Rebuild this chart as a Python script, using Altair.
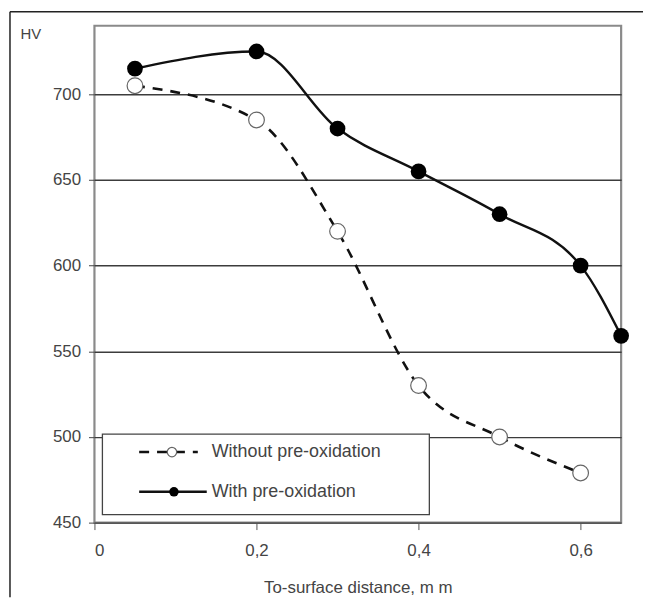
import altair as alt
import pandas as pd

# Data
x_without = [0.05, 0.2, 0.3, 0.4, 0.5, 0.6]
hv_without = [705, 685, 620, 530, 500, 479]
x_with = [0.05, 0.2, 0.3, 0.4, 0.5, 0.6, 0.65]
hv_with = [715, 725, 680, 655, 630, 600, 559]
x_ticks = [0, 0.2, 0.4, 0.6]
y_ticks = [450, 500, 550, 600, 650, 700]
legend_labels = ["Without pre-oxidation", "With pre-oxidation"]

FONT = "Liberation Sans"
TXT = "#444444"

df_wo = pd.DataFrame({"x": x_without, "hv": hv_without})
df_w = pd.DataFrame({"x": x_with, "hv": hv_with})
one = pd.DataFrame({"a": [0]})

xs = alt.Scale(domain=[0, 0.65], nice=False, zero=False)
ys = alt.Scale(domain=[450, 740], nice=False, zero=False)

xenc = alt.X("x:Q", scale=xs, axis=alt.Axis(
    values=x_ticks, format=".1~f", labelExpr="replace(datum.label, '.', ',')",
    title="To-surface distance, m m", grid=False, tickSize=7, labelPadding=13,
    titlePadding=21, labelFontSize=17, titleFontSize=17, titleFontWeight="normal",
    labelColor=TXT, titleColor=TXT, tickColor="#555", domain=False))
yenc = alt.Y("hv:Q", scale=ys, axis=alt.Axis(
    values=y_ticks, title="HV", titleAngle=0, titleX=-75, titleY=8,
    titleAlign="left", titleBaseline="middle", titleFontSize=15,
    titleFontWeight="normal", titleColor=TXT,
    grid=True, gridColor="#3c3c3c", gridWidth=1.4, tickSize=6, tickColor="#444",
    labelPadding=8, labelFontSize=17, labelColor=TXT, domain=False))

line_wo = alt.Chart(df_wo).mark_line(
    interpolate="monotone", color="#111", strokeWidth=2.6, strokeDash=[10, 8]
).encode(x=xenc, y=yenc)
pts_wo = alt.Chart(df_wo).mark_point(
    shape="circle", size=250, filled=True, fill="white", stroke="#666",
    strokeWidth=1.2, opacity=1
).encode(x="x:Q", y="hv:Q")
line_w = alt.Chart(df_w).mark_line(
    interpolate="monotone", color="#111", strokeWidth=2.4
).encode(x="x:Q", y="hv:Q")
pts_w = alt.Chart(df_w).mark_point(
    shape="circle", size=250, filled=True, color="#000", opacity=1
).encode(x="x:Q", y="hv:Q")

# Legend box (decoration placed in pixels)
leg_box = alt.Chart(one).mark_rect(fill="white", stroke="#444", strokeWidth=1.3).encode(
    x=alt.value(8), x2=alt.value(337), y=alt.value(411), y2=alt.value(492))
leg_l1 = alt.Chart(one).mark_rule(color="#111", strokeWidth=2.4, strokeDash=[10, 8]).encode(
    x=alt.value(45), x2=alt.value(104), y=alt.value(429))
leg_p1 = alt.Chart(one).mark_point(shape="circle", size=90, filled=True, fill="white",
                                   stroke="#666", strokeWidth=1.2, opacity=1).encode(
    x=alt.value(78), y=alt.value(429))
leg_t1 = alt.Chart(one).mark_text(align="left", baseline="middle", font=FONT,
                                  fontSize=18, color=TXT).encode(
    x=alt.value(118), y=alt.value(429), text=alt.value(legend_labels[0]))
leg_l2 = alt.Chart(one).mark_rule(color="#111", strokeWidth=2.4).encode(
    x=alt.value(45), x2=alt.value(113), y=alt.value(469))
leg_p2 = alt.Chart(one).mark_point(shape="circle", size=90, filled=True, color="#000",
                                   opacity=1).encode(
    x=alt.value(80), y=alt.value(469))
leg_t2 = alt.Chart(one).mark_text(align="left", baseline="middle", font=FONT,
                                  fontSize=18, color=TXT).encode(
    x=alt.value(118), y=alt.value(469), text=alt.value(legend_labels[1]))

# Outer frame (left and top edges of the scanned figure)
frame_left = alt.Chart(one).mark_rule(color="#222", strokeWidth=1.5).encode(
    x=alt.value(-85), y=alt.value(-14), y2=alt.value(575))
frame_top = alt.Chart(one).mark_rule(color="#222", strokeWidth=1.5).encode(
    x=alt.value(-85), x2=alt.value(552), y=alt.value(-14))

chart = alt.layer(
    line_wo, pts_wo, line_w, pts_w,
    leg_box, leg_l1, leg_p1, leg_t1, leg_l2, leg_p2, leg_t2,
    frame_left, frame_top
).properties(
    width=530, height=500,
    autosize=alt.AutoSizeParams(type="none"),
    padding={"left": 87, "top": 16, "right": 22, "bottom": 76},
).configure(font=FONT).configure_view(stroke="#8a8a8a", strokeWidth=2.2)

chart.save("out.html", embed_options={"renderer": "svg", "actions": False})
